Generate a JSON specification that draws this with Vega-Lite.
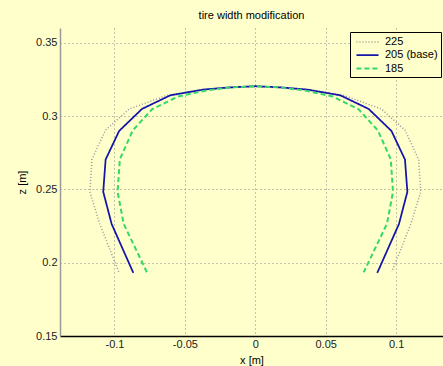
{
  "$schema": "https://vega.github.io/schema/vega-lite/v6.json",
  "width": 383,
  "height": 308,
  "autosize": {"type": "none"},
  "padding": {"left": 60, "top": 28, "right": 0, "bottom": 30},
  "background": "#ffffcc",
  "title": {"text": "tire width modification", "font": "Liberation Sans", "fontSize": 11, "fontWeight": "normal", "color": "#000000", "anchor": "middle", "baseline": "bottom", "offset": -4},
  "config": {
    "view": {"stroke": null, "fill": "#ffffcc"},
    "axis": {"labelFont": "Liberation Sans", "labelFontSize": 11, "labelColor": "#222222", "titleFont": "Liberation Sans", "titleFontSize": 11, "titleFontWeight": "normal", "titleColor": "#000000", "grid": true, "gridColor": "#888888", "gridDash": [1, 3], "gridWidth": 1, "ticks": false}
  },
  "data": {"values": [
    {"s": "225", "i": 0, "x": -0.097, "y": 0.1938},
    {"s": "225", "i": 1, "x": -0.1105, "y": 0.2265},
    {"s": "225", "i": 2, "x": -0.1175, "y": 0.2483},
    {"s": "225", "i": 3, "x": -0.116, "y": 0.2703},
    {"s": "225", "i": 4, "x": -0.1065, "y": 0.2902},
    {"s": "225", "i": 5, "x": -0.0895, "y": 0.3048},
    {"s": "225", "i": 6, "x": -0.0627, "y": 0.3141},
    {"s": "225", "i": 7, "x": -0.037, "y": 0.318},
    {"s": "225", "i": 8, "x": -0.018, "y": 0.3195},
    {"s": "225", "i": 9, "x": 0, "y": 0.3203},
    {"s": "225", "i": 10, "x": 0.018, "y": 0.3195},
    {"s": "225", "i": 11, "x": 0.037, "y": 0.318},
    {"s": "225", "i": 12, "x": 0.0627, "y": 0.3141},
    {"s": "225", "i": 13, "x": 0.0895, "y": 0.3048},
    {"s": "225", "i": 14, "x": 0.1065, "y": 0.2902},
    {"s": "225", "i": 15, "x": 0.116, "y": 0.2703},
    {"s": "225", "i": 16, "x": 0.1175, "y": 0.2483},
    {"s": "225", "i": 17, "x": 0.1105, "y": 0.2265},
    {"s": "225", "i": 18, "x": 0.097, "y": 0.1938},
    {"s": "205 (base)", "i": 0, "x": -0.0866, "y": 0.193},
    {"s": "205 (base)", "i": 1, "x": -0.102, "y": 0.2263},
    {"s": "205 (base)", "i": 2, "x": -0.108, "y": 0.2483},
    {"s": "205 (base)", "i": 3, "x": -0.1063, "y": 0.2703},
    {"s": "205 (base)", "i": 4, "x": -0.0967, "y": 0.2898},
    {"s": "205 (base)", "i": 5, "x": -0.0805, "y": 0.3048},
    {"s": "205 (base)", "i": 6, "x": -0.0604, "y": 0.3141},
    {"s": "205 (base)", "i": 7, "x": -0.037, "y": 0.318},
    {"s": "205 (base)", "i": 8, "x": -0.018, "y": 0.3195},
    {"s": "205 (base)", "i": 9, "x": 0, "y": 0.3203},
    {"s": "205 (base)", "i": 10, "x": 0.018, "y": 0.3195},
    {"s": "205 (base)", "i": 11, "x": 0.037, "y": 0.318},
    {"s": "205 (base)", "i": 12, "x": 0.0604, "y": 0.3141},
    {"s": "205 (base)", "i": 13, "x": 0.0805, "y": 0.3048},
    {"s": "205 (base)", "i": 14, "x": 0.0967, "y": 0.2898},
    {"s": "205 (base)", "i": 15, "x": 0.1063, "y": 0.2703},
    {"s": "205 (base)", "i": 16, "x": 0.108, "y": 0.2483},
    {"s": "205 (base)", "i": 17, "x": 0.102, "y": 0.2263},
    {"s": "205 (base)", "i": 18, "x": 0.0866, "y": 0.193},
    {"s": "185", "i": 0, "x": -0.077, "y": 0.1935},
    {"s": "185", "i": 1, "x": -0.0935, "y": 0.2265},
    {"s": "185", "i": 2, "x": -0.0978, "y": 0.2483},
    {"s": "185", "i": 3, "x": -0.0962, "y": 0.2705},
    {"s": "185", "i": 4, "x": -0.087, "y": 0.2902},
    {"s": "185", "i": 5, "x": -0.0734, "y": 0.3045},
    {"s": "185", "i": 6, "x": -0.055, "y": 0.3133},
    {"s": "185", "i": 7, "x": -0.0345, "y": 0.3175},
    {"s": "185", "i": 8, "x": -0.017, "y": 0.3195},
    {"s": "185", "i": 9, "x": 0, "y": 0.3203},
    {"s": "185", "i": 10, "x": 0.017, "y": 0.3195},
    {"s": "185", "i": 11, "x": 0.0345, "y": 0.3175},
    {"s": "185", "i": 12, "x": 0.055, "y": 0.3133},
    {"s": "185", "i": 13, "x": 0.0734, "y": 0.3045},
    {"s": "185", "i": 14, "x": 0.087, "y": 0.2902},
    {"s": "185", "i": 15, "x": 0.0962, "y": 0.2705},
    {"s": "185", "i": 16, "x": 0.0978, "y": 0.2483},
    {"s": "185", "i": 17, "x": 0.0935, "y": 0.2265},
    {"s": "185", "i": 18, "x": 0.077, "y": 0.1935}
  ]},
  "mark": {"type": "line", "clip": true},
  "encoding": {
    "x": {"field": "x", "type": "quantitative", "scale": {"domain": [-0.1387, 0.1333], "nice": false, "zero": false},
      "axis": {"values": [-0.1, -0.05, 0, 0.05, 0.1], "title": "x [m]", "domainColor": "#000000", "domainWidth": 1.5, "labelPadding": 2, "titlePadding": 5, "format": "~g", "labelExpr": "replace(datum.label, '\u2212', '-')"}},
    "y": {"field": "y", "type": "quantitative", "scale": {"domain": [0.15, 0.36], "nice": false, "zero": false},
      "axis": {"values": [0.15, 0.2, 0.25, 0.3, 0.35], "title": "z [m]", "domainColor": "#999999", "domainWidth": 1.5, "labelPadding": 3, "titlePadding": 8, "format": "~g"}},
    "order": {"field": "i", "type": "quantitative"},
    "color": {"field": "s", "type": "nominal", "scale": {"domain": ["225", "205 (base)", "185"], "range": ["#a0909c", "#1414aa", "#33d966"]},
      "legend": {"title": null, "orient": "none", "legendX": 290, "legendY": 4, "strokeColor": "#000000", "fillColor": "#ffffcc", "padding": 3, "labelFont": "Liberation Sans", "labelFontSize": 11, "labelColor": "#000000", "symbolType": "M-1.8,0L1.8,0", "symbolSize": 150, "symbolStrokeWidth": 2, "symbolOffset": 7, "rowPadding": 1, "labelOffset": 10}},
    "strokeDash": {"field": "s", "type": "nominal", "scale": {"domain": ["225", "205 (base)", "185"], "range": [[1, 2], [1, 0], [5, 3]]}, "legend": {"title": null}},
    "strokeWidth": {"field": "s", "type": "nominal", "scale": {"domain": ["225", "205 (base)", "185"], "range": [1.5, 2, 2.5]}, "legend": null}
  }
}
